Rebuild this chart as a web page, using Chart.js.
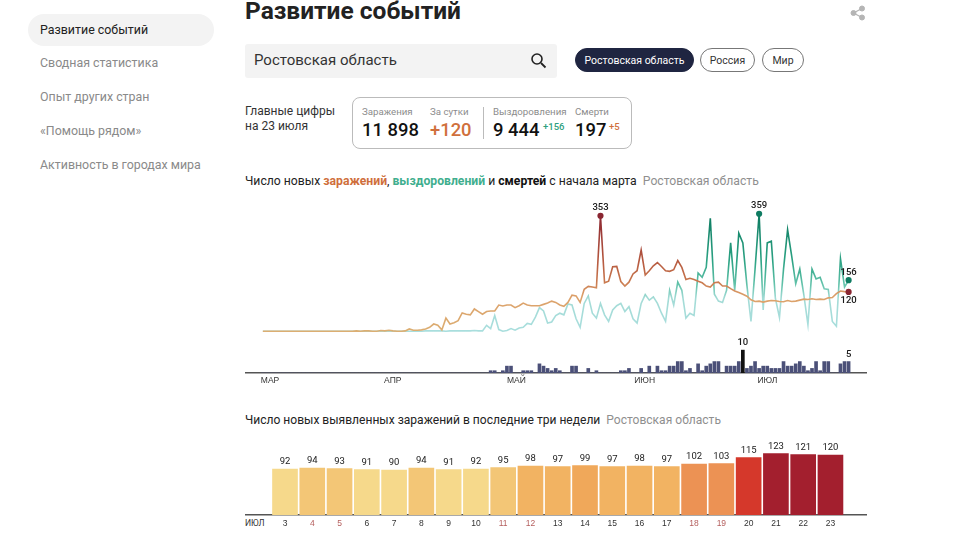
<!DOCTYPE html>
<html lang="ru"><head><meta charset="utf-8">
<script src="https://cdn.jsdelivr.net/npm/chart.js@4"></script>
<style>
html,body{margin:0;padding:0;background:#fff;width:960px;height:541px;overflow:hidden;font-family:Roboto,"Noto Sans",sans-serif;color:#1a1a1a}
.a{position:absolute;white-space:nowrap;line-height:1}
.nav{left:40px;font-size:12.4px;color:#8a8a8a}
.pill{position:absolute;box-sizing:border-box;border-radius:12px;font-size:10.5px;display:flex;align-items:center;justify-content:center;border:1px solid #777;color:#333;height:24px;top:48px}
.lab{font-size:9.7px;color:#8c8c8c}
.num{font-size:18.4px;font-weight:500;color:#111}
canvas{position:absolute;display:block}
</style></head><body>
<div class="a" style="left:28px;top:14px;width:186px;height:32px;background:#f3f3f3;border-radius:16px"></div>
<div class="a nav" style="top:24px;color:#222">Развитие событий</div>
<div class="a nav" style="top:57px">Сводная статистика</div>
<div class="a nav" style="top:91px">Опыт других стран</div>
<div class="a nav" style="top:125px">«Помощь рядом»</div>
<div class="a nav" style="top:159px">Активность в городах мира</div>
<div class="a" style="left:245px;top:-1px;font-size:24.5px;font-weight:700;color:#222">Развитие событий</div>
<svg class="a" style="left:850px;top:5px" width="16" height="16" viewBox="0 0 16 16"><g fill="#b5b5b5" stroke="#b5b5b5"><circle cx="12" cy="3.5" r="2.5"/><circle cx="3.5" cy="8" r="2.5"/><circle cx="12" cy="12.5" r="2.5"/><path d="M12 3.5 3.5 8 12 12.5" fill="none" stroke-width="1.3"/></g></svg>
<div class="a" style="left:245px;top:44px;width:312px;height:34px;background:#f3f3f3;border-radius:3px"></div>
<div class="a" style="left:254px;top:53px;font-size:15px;color:#333">Ростовская область</div>
<svg class="a" style="left:530px;top:52px" width="17" height="17" viewBox="0 0 17 17"><circle cx="7" cy="7" r="5" fill="none" stroke="#222" stroke-width="1.6"/><path d="M11 11 15.5 15.5" stroke="#222" stroke-width="1.8"/></svg>
<div class="pill" style="left:575px;width:119px;background:#1f2541;color:#fff;border-color:#1f2541">Ростовская область</div>
<div class="pill" style="left:700px;width:55px">Россия</div>
<div class="pill" style="left:762px;width:42px">Мир</div>
<div class="a" style="left:245px;top:104px;font-size:12px;color:#333;line-height:15px">Главные цифры<br>на 23 июля</div>
<div class="a" style="left:352px;top:97px;width:280px;height:52px;box-sizing:border-box;border:1px solid #bbb;border-radius:8px"></div>
<div class="a" style="left:483px;top:107px;width:1px;height:32px;background:#bbb"></div>
<div class="a lab" style="left:362px;top:107px">Заражения</div>
<div class="a lab" style="left:430px;top:107px">За сутки</div>
<div class="a lab" style="left:493px;top:107px">Выздоровления</div>
<div class="a lab" style="left:575px;top:107px">Смерти</div>
<div class="a num" style="left:362px;top:121px">11 898</div>
<div class="a num" style="left:430px;top:121px;color:#d0703c">+120</div>
<div class="a num" style="left:493px;top:121px">9 444</div>
<div class="a" style="left:543px;top:122px;font-size:9.5px;font-weight:500;color:#2e9f80">+156</div>
<div class="a num" style="left:575px;top:121px">197</div>
<div class="a" style="left:609px;top:122px;font-size:9.5px;font-weight:500;color:#d0703c">+5</div>
<div class="a" style="left:245px;top:175px;font-size:12.2px;color:#222">Число новых <b style="color:#cf6f3c;font-weight:700">заражений</b>, <b style="color:#3fae8e;font-weight:700">выздоровлений</b> и <b style="font-weight:700;color:#111">смертей</b> с начала марта&nbsp; <span style="color:#8f8f8f">Ростовская область</span></div>
<div class="a" style="left:245px;top:414px;font-size:12.05px;color:#222">Число новых выявленных заражений в последние три недели&nbsp; <span style="color:#8f8f8f">Ростовская область</span></div>
<div class="a" style="left:245px;top:519px;font-size:8.5px;color:#333">ИЮЛ</div>
<canvas id="trend" width="628" height="204" style="left:242px;top:187px;width:628px;height:204px"></canvas>
<canvas id="weeks" width="622" height="105" style="left:245px;top:430px;width:622px;height:105px"></canvas>
<script>
const infections=[
0,0,0,0,0,0,0,0,0,0,
0,0,0,0,0,0,0,0,0,0,
0,0,0,1,0,1,1,0,0,2,
1,3,1,0,0,1,7,3,3,4,
7,12,22,18,4,40,22,26,32,56,
52,50,68,60,52,60,62,62,80,77,
80,80,72,78,86,80,78,78,78,82,
86,92,88,80,76,88,110,108,88,128,
137,135,133,353,148,153,197,198,152,138,
150,175,185,248,172,185,200,210,198,185,
183,188,216,195,158,162,158,153,148,138,
135,148,150,138,138,130,123,118,113,107,
96,91,92,89,92,94,93,91,90,94,
91,92,95,98,97,99,97,98,97,102,
103,115,123,121,120];
const recoveries=[
0,0,0,0,0,0,0,0,0,0,
0,0,0,0,0,0,0,0,0,0,
0,0,0,0,0,0,0,0,0,0,
0,0,0,0,0,0,0,0,0,0,
1,1,1,1,1,0,1,1,1,1,
1,1,2,1,1,18,8,48,5,0,
2,8,3,10,12,24,21,43,72,62,
25,28,48,55,50,83,80,38,12,85,
108,55,40,85,50,30,65,78,85,60,
75,38,25,85,112,95,105,85,55,30,
125,80,150,125,40,55,48,178,165,195,
345,113,92,88,125,270,125,300,270,140,
30,190,359,65,270,275,100,42,190,310,
230,145,190,110,20,190,160,165,130,128,
30,15,222,135,156];
const deaths=[
0,0,0,0,0,0,0,0,0,0,
0,0,0,0,0,0,0,0,0,0,
0,0,0,0,0,0,0,0,0,0,
0,0,0,0,0,0,0,0,0,0,
0,0,0,0,0,0,0,0,0,0,
0,0,0,0,0,0,1,1,0,1,
3,3,0,0,1,1,1,0,4,3,
2,1,2,1,0,0,3,3,0,0,
2,0,1,0,0,0,0,0,1,1,
2,0,0,2,0,3,0,3,1,1,
3,3,5,5,1,2,0,4,1,3,
4,5,5,0,3,3,3,5,10,2,
3,5,2,3,3,2,2,2,5,3,
3,4,5,3,1,2,5,1,5,5,
0,0,4,5,5];
const monthStarts=[-0.5,29.8,60,91.3,121.6];
const monthLabels=['МАР','АПР','МАЙ','ИЮН','ИЮЛ'];
const weekDays=[3,4,5,6,7,8,9,10,11,12,13,14,15,16,17,18,19,20,21,22,23];
const weekValues=[92,94,93,91,90,94,91,92,95,98,97,99,97,98,97,102,103,115,123,121,120];
const weekendDays=[4,5,11,12,18,19];

const xy=a=>a.map((v,i)=>({x:i,y:v}));
const infStops=[[0,'#dcae72'],[0.3,'#dca06a'],[0.42,'#c9794f'],[0.6,'#b5583f'],[1,'#8a2632']];
const recStops=[[0,'#a9dedd'],[0.28,'#a3dbd6'],[0.4,'#62c2aa'],[0.6,'#2ba283'],[1,'#0d7a60']];
function valueGradient(chart,stops){
  const y=chart.scales.y;
  if(!chart.chartArea||!y)return stops[0][1];
  const p0=y.getPixelForValue(0),p1=y.getPixelForValue(360);
  if(!isFinite(p0)||!isFinite(p1))return stops[0][1];
  const g=chart.ctx.createLinearGradient(0,p0,0,p1);
  stops.forEach(s=>g.addColorStop(s[0],s[1]));
  return g;
}
function marker(list,color){
  return {
    pointRadius:c=>list.includes(c.dataIndex)?2.3:0,
    pointHoverRadius:0,
    pointBackgroundColor:color,pointBorderColor:color
  };
}
const trendLabels={
  id:'trendLabels',
  afterDatasetsDraw(c){
    const {ctx,scales:{x,y,yd}}=c;
    ctx.save();ctx.textAlign='center';ctx.textBaseline='middle';ctx.fillStyle='#1a1a1a';
    ctx.font='500 9.5px Roboto, sans-serif';
    const peakI=infections.indexOf(Math.max(...infections));
    const peakR=recoveries.indexOf(Math.max(...recoveries));
    const last=infections.length-1;
    ctx.fillText(infections[peakI],x.getPixelForValue(peakI),y.getPixelForValue(infections[peakI])-8);
    ctx.fillText(recoveries[peakR],x.getPixelForValue(peakR),y.getPixelForValue(recoveries[peakR])-8);
    ctx.fillText(recoveries[last],x.getPixelForValue(last),y.getPixelForValue(recoveries[last])-8);
    ctx.fillText(infections[last],x.getPixelForValue(last),y.getPixelForValue(infections[last])+9);
    const di=deaths.indexOf(Math.max(...deaths));
    ctx.fillText(deaths[di],x.getPixelForValue(di),yd.getPixelForValue(deaths[di])-7);
    ctx.fillText(deaths[last],x.getPixelForValue(last),yd.getPixelForValue(deaths[last])-7);
    ctx.restore();
  }
};
new Chart(document.getElementById('trend'),{
  type:'line',
  data:{datasets:[
    {type:'bar',label:'Смерти',data:xy(deaths),yAxisID:'yd',barThickness:3,
      backgroundColor:c=>c.raw&&c.raw.y>=10?'#111':'#4b5078',order:3},
    {label:'Выздоровления',data:xy(recoveries),yAxisID:'y',fill:false,tension:0,borderWidth:1.6,
      borderColor:c=>valueGradient(c.chart,recStops),order:2,
      ...marker([recoveries.indexOf(Math.max(...recoveries)),recoveries.length-1],'#0f7c62')},
    {label:'Заражения',data:xy(infections),yAxisID:'y',fill:false,tension:0,borderWidth:1.6,
      borderColor:c=>valueGradient(c.chart,infStops),order:1,
      ...marker([infections.indexOf(Math.max(...infections)),infections.length-1],'#8a2632')}
  ]},
  options:{responsive:false,animation:false,
    layout:{padding:0},
    plugins:{legend:{display:false},tooltip:{enabled:false}},
    scales:{
      x:{type:'linear',offset:false,min:-4.17,max:148.3,
        afterBuildTicks:s=>{s.ticks=monthStarts.map(v=>({value:v}))},
        afterFit:s=>{s.height=18},
        grid:{display:false,drawTicks:false,offset:false},
        border:{display:true,color:'#555',width:1.5},
        ticks:{autoSkip:false,maxRotation:0,align:'start',padding:3,color:'#333',font:{size:8.5},
          callback:v=>monthLabels[monthStarts.indexOf(v)]}},
      y:{min:-127.8,max:429,display:false},
      yd:{min:0,max:79.6,display:false}
    }},
  plugins:[trendLabels]
});

function weekColor(v){
  if(v>=120)return '#a31f2e';
  if(v>=110)return '#d5382b';
  if(v>=100)return '#ec9254';
  if(v>=99)return '#f0a85a';
  if(v>=96)return '#f2b362';
  if(v>=93)return '#f3c676';
  return '#f6d98b';
}
const barLabels={
  id:'barLabels',
  afterDatasetsDraw(c){
    const {ctx,scales:{x,y}}=c;
    ctx.save();ctx.textAlign='center';ctx.textBaseline='middle';ctx.fillStyle='#222';
    ctx.font='9.5px Roboto, sans-serif';
    weekValues.forEach((v,i)=>ctx.fillText(v,x.getPixelForValue(i),y.getPixelForValue(v)-7));
    ctx.restore();
  }
};
new Chart(document.getElementById('weeks'),{
  type:'bar',
  data:{datasets:[{label:'Заражения',data:xy(weekValues),barThickness:25,
    backgroundColor:c=>c.raw?weekColor(c.raw.y):'#f6d98b'}]},
  options:{responsive:false,animation:false,
    layout:{padding:0},
    plugins:{legend:{display:false},tooltip:{enabled:false}},
    scales:{
      x:{type:'linear',offset:false,min:-1.467,max:21.34,
        afterBuildTicks:s=>{s.ticks=weekDays.map((d,i)=>({value:i}))},
        afterFit:s=>{s.height=20},
        grid:{display:false,drawTicks:false,offset:false},
        border:{display:true,color:'#555',width:1.5},
        ticks:{autoSkip:false,maxRotation:0,padding:4,font:{size:8.5},
          color:c=>weekendDays.includes(weekDays[c.index])?'#b5605f':'#333',
          callback:(v)=>weekDays[v]}},
      y:{min:0,max:170,display:false}
    }},
  plugins:[barLabels]
});
</script>
</body></html>
